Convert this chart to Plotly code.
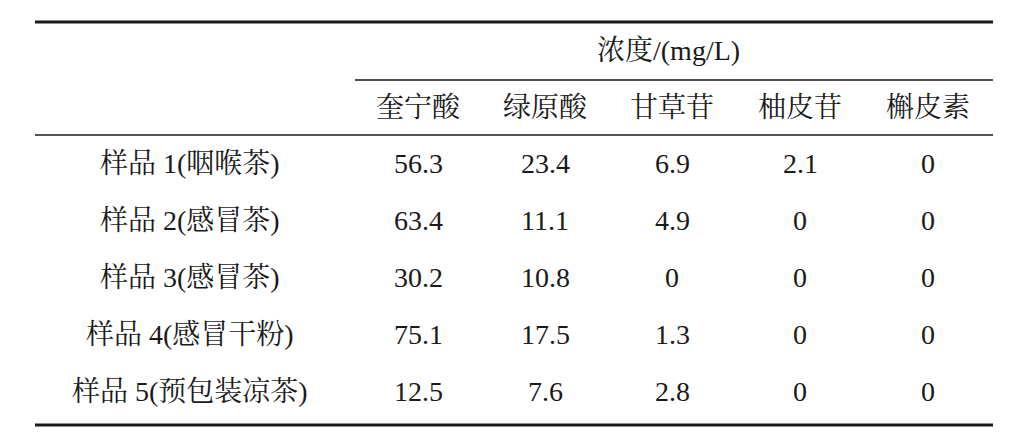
import plotly.graph_objects as go

group_header = "浓度/(mg/L)"
columns = ["奎宁酸", "绿原酸", "甘草苷", "柚皮苷", "槲皮素"]
rows = ["样品 1(咽喉茶)", "样品 2(感冒茶)", "样品 3(感冒茶)", "样品 4(感冒干粉)", "样品 5(预包装凉茶)"]
values = [
    ["56.3", "23.4", "6.9", "2.1", "0"],
    ["63.4", "11.1", "4.9", "0", "0"],
    ["30.2", "10.8", "0", "0", "0"],
    ["75.1", "17.5", "1.3", "0", "0"],
    ["12.5", "7.6", "2.8", "0", "0"],
]

col_x = [418, 545, 672, 800, 928]
row_y = [163, 220, 277, 334, 391]
label_x = 190
font = dict(family="Liberation Serif, Noto Serif CJK SC, Noto Sans CJK SC, serif", size=28, color="#1a1a1a")

fig = go.Figure()
ann = [dict(x=668, y=50, text=group_header)]
for cx, c in zip(col_x, columns):
    ann.append(dict(x=cx, y=107, text=c))
for ry, r, vals in zip(row_y, rows, values):
    ann.append(dict(x=label_x, y=ry, text=r))
    for cx, v in zip(col_x, vals):
        ann.append(dict(x=cx, y=ry, text=v))
for a in ann:
    a.update(xref="x", yref="y", showarrow=False, font=font, xanchor="center", yanchor="middle")

shapes = [
    dict(type="line", x0=35, x1=993, y0=22, y1=22, line=dict(color="#1a1a1a", width=3)),
    dict(type="line", x0=355, x1=993, y0=80, y1=80, line=dict(color="#1a1a1a", width=1.5)),
    dict(type="line", x0=35, x1=993, y0=135, y1=135, line=dict(color="#1a1a1a", width=1.5)),
    dict(type="line", x0=35, x1=993, y0=425, y1=425, line=dict(color="#1a1a1a", width=3)),
]
for s in shapes:
    s.update(xref="x", yref="y")

fig.update_layout(
    width=1020, height=448, margin=dict(l=0, r=0, t=0, b=0),
    paper_bgcolor="white", plot_bgcolor="white",
    xaxis=dict(range=[8, 1028], visible=False, fixedrange=True),
    yaxis=dict(range=[456, 8], visible=False, fixedrange=True),
    annotations=ann, shapes=shapes, showlegend=False,
)
fig.write_html("out.html")
